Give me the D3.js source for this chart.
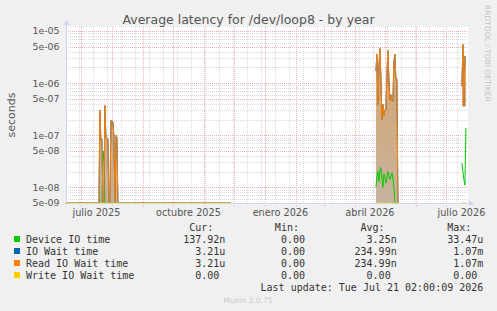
<!DOCTYPE html>
<html>
<head>
<meta charset="utf-8">
<script src="https://cdn.jsdelivr.net/npm/d3@7"></script>
<style>
  html, body { margin: 0; padding: 0; background: #f0f0f0; }
  svg { display: block; }
  text { font-family: 'DejaVu Sans', sans-serif; }
  .mono { font-family: 'DejaVu Sans Mono', monospace; }
</style>
</head>
<body>
<svg id="chart" width="497" height="311"></svg>
<script>
const rangeStart = '2025-06-16 02:00:09';
const rangeEnd = '2026-07-21 02:00:09';

const monthLabels = ['julio 2025', 'octubre 2025', 'enero 2026', 'abril 2026', 'julio 2026'];
const monthLabelMonths = ['2025-07-01', '2025-10-01', '2026-01-01', '2026-04-01', '2026-07-01'];

const yTickValues = [1e-5, 5e-6, 1e-6, 5e-7, 1e-7, 5e-8, 1e-8, 5e-9];
const yTickLabels = ['1e-05', '5e-06', '1e-06', '5e-07', '1e-07', '5e-08', '1e-08', '5e-09'];

// periods with data (fields are 0 there unless a burst below says otherwise)
const dataPeriods = [
  ['2025-06-16', '2025-11-28'],
  ['2026-04-22', '2026-05-14'],
  ['2026-07-17', '2026-07-21'],
];

// daily values (seconds), one per day from the burst start date
const burstStarts = ['2025-07-18', '2026-04-22', '2026-07-17'];

const readWaitBursts = [
  [0, 0, 3.0e-7, 8.0e-8, 8.5e-8, 0, 0, 3.7e-7, 9.0e-8, 9.0e-8, 8.5e-8, 0, 0,
   1.9e-7, 1.9e-7, 1.8e-7, 9.5e-8, 0, 1.0e-7, 9.0e-8, 0],
  [1.7e-6, 3.6e-6, 3.9e-7, 2.0e-6, 4.6e-6, 1.3e-6, 2.0e-7, 3.9e-7, 2.4e-7, 3.1e-7,
   3.1e-7, 1.5e-6, 4.3e-6, 1.2e-6, 4.8e-7, 6.0e-7, 4.5e-7, 4.5e-7, 2.6e-6, 3.6e-6,
   1.2e-6, 1.2e-6, 0],
  [8.7e-7, 5.5e-6, 3.6e-7, 3.3e-6, 3.21e-6],
];
// IO wait = read wait here (write wait is always 0), same readings
const ioWaitBursts = readWaitBursts;

const deviceIoBursts = [
  [0, 0, 0, 0, 0, 3.0e-8, 5.0e-8, 0, 0, 0, 0, 0, 0,
   0, 0, 0, 0, 0, 0, 0, 0],
  [1.0e-8, 1.6e-8, 2.0e-8, 1.3e-8, 2.2e-8, 2.4e-8, 1.4e-8, 1.0e-8, 1.8e-8, 1.6e-8,
   1.2e-8, 1.5e-8, 2.0e-8, 1.7e-8, 1.4e-8, 1.6e-8, 1.9e-8, 1.5e-8, 1.0e-8, 0,
   0, 0, 0],
  [2.9e-8, 2.0e-8, 1.4e-8, 1.1e-8, 1.379e-7],
];

const legendNames = ['Device IO time', 'IO Wait time', 'Read IO Wait time', 'Write IO Wait time'];
const legendColors = ['#00cc00', '#0066b3', '#ff8000', '#ffcc00'];
const curValues = ['137.92n', '3.21u', '3.21u', '0.00'];
const minValues = ['0.00', '0.00', '0.00', '0.00'];
const avgValues = ['3.25n', '234.99n', '234.99n', '0.00'];
const maxValues = ['33.47u', '1.07m', '1.07m', '0.00'];

// ---- chart ----
const parseDay = d3.timeParse('%Y-%m-%d');
const parseTime = d3.timeParse('%Y-%m-%d %H:%M:%S');

const svg = d3.select('#chart');
const plotLeft = 66, plotRight = 466, plotTop = 27, plotBottom = 203;
const gridRight = 468;

const x = d3.scaleTime()
  .domain([parseTime(rangeStart), parseTime(rangeEnd)])
  .range([plotLeft, plotRight]);

const yMin = 5e-9, yMax = 1.194e-5;
const y = d3.scaleLog()
  .domain([yMin, yMax])
  .range([plotBottom, plotTop]);

// log scale can't show 0, rrdtool puts it on the bottom edge
const yv = (v) => y(Math.max(v, yMin));

// build a series: zero lines over the data periods, bursts spliced in
function buildSeries(bursts) {
  const pts = [];
  dataPeriods.forEach((p, i) => {
    const startP = parseDay(p[0]);
    const endP = parseDay(p[1]);
    const b0 = parseDay(burstStarts[i]);
    const vals = bursts[i];
    if (+b0 > +startP) pts.push([startP, 0]);
    vals.forEach((v, k) => pts.push([d3.timeDay.offset(b0, k), v]));
    const bEnd = d3.timeDay.offset(b0, vals.length - 1);
    if (+endP > +bEnd) pts.push([endP, 0]);
    pts.push([d3.timeDay.offset(endP, 1), null]);
  });
  return pts;
}

function buildZeroSeries() {
  const pts = [];
  dataPeriods.forEach((p) => {
    pts.push([parseDay(p[0]), 0]);
    pts.push([parseDay(p[1]), 0]);
    pts.push([d3.timeDay.offset(parseDay(p[1]), 1), null]);
  });
  return pts;
}

const deviceSeries = buildSeries(deviceIoBursts);
const ioWaitSeries = buildSeries(ioWaitBursts);
const readSeries = buildSeries(readWaitBursts);
const writeSeries = buildZeroSeries();

// plot background
svg.append('rect')
  .attr('x', plotLeft).attr('y', plotTop)
  .attr('width', gridRight - plotLeft).attr('height', plotBottom - plotTop)
  .attr('fill', '#ffffff');

const defs = svg.append('defs');
defs.append('clipPath')
  .attr('id', 'plotclip')
  .append('rect')
  .attr('x', plotLeft).attr('y', plotTop)
  .attr('width', gridRight - plotLeft).attr('height', plotBottom - plotTop);

// gradient for the dense zig-zag fill under the wait lines
const grad = defs.append('linearGradient')
  .attr('id', 'tan')
  .attr('gradientUnits', 'userSpaceOnUse')
  .attr('x1', 0).attr('y1', 40).attr('x2', 0).attr('y2', plotBottom);
grad.append('stop').attr('offset', 0).attr('stop-color', '#d49a5c');
grad.append('stop').attr('offset', 1).attr('stop-color', '#c0ac94');

// horizontal grid
const gridY = [];
for (let e = -9; e <= -5; e++) {
  for (let k = 1; k <= 9; k++) {
    const v = k * Math.pow(10, e);
    if (v >= yMin && v <= yMax) gridY.push({ v, major: k === 1 || k === 5 });
  }
}
const minorColor = '#dadada';
const majorColor = '#eeb0b0';
const grid = svg.append('g');
grid.selectAll('.hgrid')
  .data(gridY)
  .enter()
  .append('line')
  .attr('x1', plotLeft).attr('x2', gridRight)
  .attr('y1', (d) => Math.round(y(d.v)) + 0.5)
  .attr('y2', (d) => Math.round(y(d.v)) + 0.5)
  .attr('stroke', (d) => (d.major ? majorColor : minorColor))
  .attr('stroke-dasharray', '1,1');

// vertical grid: months (major) and every other sunday (minor)
const monthTicks = d3.timeMonth.range(parseDay('2025-07-01'), parseDay('2026-07-02'));
const minorTicks = d3.timeDay.range(parseDay('2025-06-29'), parseDay('2026-07-21'), 14)
  .filter((d) => x(d) > plotLeft);

grid.selectAll('.vminor')
  .data(minorTicks)
  .enter()
  .append('line')
  .attr('x1', (d) => Math.round(x(d)) + 0.5)
  .attr('x2', (d) => Math.round(x(d)) + 0.5)
  .attr('y1', plotTop).attr('y2', plotBottom + 2)
  .attr('stroke', minorColor)
  .attr('stroke-dasharray', '1,1');

grid.selectAll('.vmajor')
  .data(monthTicks)
  .enter()
  .append('line')
  .attr('x1', (d) => Math.round(x(d)) + 0.5)
  .attr('x2', (d) => Math.round(x(d)) + 0.5)
  .attr('y1', plotTop).attr('y2', plotBottom + 3)
  .attr('stroke', majorColor)
  .attr('stroke-dasharray', '1,1');

// axes with arrows
const axisColor = '#cdd4f4';
svg.append('line')
  .attr('x1', plotLeft + 0.5).attr('x2', plotLeft + 0.5)
  .attr('y1', plotBottom + 2).attr('y2', 24)
  .attr('stroke', axisColor);
svg.append('path')
  .attr('d', `M${plotLeft - 2.5},25 L${plotLeft + 3.5},25 L${plotLeft + 0.5},20 Z`)
  .attr('fill', axisColor);
svg.append('line')
  .attr('x1', plotLeft - 2).attr('x2', 470)
  .attr('y1', plotBottom + 0.5).attr('y2', plotBottom + 0.5)
  .attr('stroke', axisColor);
svg.append('path')
  .attr('d', `M469,${plotBottom - 2.5} L469,${plotBottom + 3.5} L474,${plotBottom + 0.5} Z`)
  .attr('fill', axisColor);

const plot = svg.append('g').attr('clip-path', 'url(#plotclip)');

// fill under the wait lines (per burst, down to the burst's lowest value)
const area = d3.area()
  .x((d) => x(d[0]))
  .y0((d) => d[2])
  .y1((d) => yv(d[1]));

burstStarts.forEach((s, i) => {
  const vals = readWaitBursts[i];
  const base = yv(d3.min(vals));
  const pts = vals.map((v, k) => [d3.timeDay.offset(parseDay(s), k), v, base]);
  plot.append('path')
    .datum(pts)
    .attr('d', area)
    .attr('fill', 'url(#tan)')
    .attr('fill-opacity', 0.9);
});

// lines, drawn in munin's field order
const line = d3.line()
  .defined((d) => d[1] !== null)
  .x((d) => x(d[0]))
  .y((d) => yv(d[1]));

[deviceSeries, ioWaitSeries, readSeries, writeSeries].forEach((s, i) => {
  plot.append('path')
    .datum(s)
    .attr('d', line)
    .attr('fill', 'none')
    .attr('stroke', legendColors[i])
    .attr('stroke-width', 1);
});

// y labels
svg.selectAll('.ylab')
  .data(yTickValues)
  .enter()
  .append('text')
  .attr('x', 59.5)
  .attr('y', (d) => y(d) + 3.4)
  .attr('text-anchor', 'end')
  .attr('font-size', '9.4px')
  .attr('fill', '#555')
  .text((d, i) => yTickLabels[i]);

// x labels, centred in their month
svg.selectAll('.xlab')
  .data(monthLabelMonths)
  .enter()
  .append('text')
  .attr('x', (d) => {
    const m = parseDay(d);
    return (x(m) + x(d3.timeMonth.offset(m, 1))) / 2;
  })
  .attr('y', 216)
  .attr('text-anchor', 'middle')
  .attr('font-size', '9.7px')
  .attr('fill', '#555')
  .text((d, i) => monthLabels[i]);

// title + axis title
svg.append('text')
  .attr('x', 248.5).attr('y', 24)
  .attr('text-anchor', 'middle')
  .attr('font-size', '12.5px')
  .attr('fill', '#555')
  .text('Average latency for /dev/loop8 - by year');

svg.append('text')
  .attr('transform', 'translate(15,115) rotate(-90)')
  .attr('text-anchor', 'middle')
  .attr('font-size', '11px')
  .attr('fill', '#555')
  .text('seconds');

svg.append('text')
  .attr('transform', 'translate(484.5,5) rotate(90)')
  .attr('font-size', '7.5px')
  .attr('fill', '#c4c4c4')
  .text('RRDTOOL / TOBI OETIKER');

// legend
const charW = 6.02;
const cols = [
  { head: 'Cur:', vals: curValues, end: 225.3 },
  { head: 'Min:', vals: minValues, end: 311 },
  { head: 'Avg:', vals: avgValues, end: 396.7 },
  { head: 'Max:', vals: maxValues, end: 483.3 },
];
const legend = svg.append('g')
  .attr('font-size', '10px')
  .attr('fill', '#333');

cols.forEach((c) => {
  legend.append('text')
    .attr('class', 'mono')
    .attr('x', c.end - 2 * charW)
    .attr('y', 231.3)
    .attr('text-anchor', 'end')
    .text(c.head);
});

const rowY = [243, 255, 267, 279];
legendNames.forEach((name, i) => {
  legend.append('rect')
    .attr('x', 14).attr('y', rowY[i] - 7)
    .attr('width', 6).attr('height', 6)
    .attr('fill', legendColors[i]);
  legend.append('text')
    .attr('class', 'mono')
    .attr('x', 26).attr('y', rowY[i])
    .text(name);
  cols.forEach((c) => {
    const v = c.vals[i];
    const hasUnit = /[a-zA-Z]$/.test(v);
    legend.append('text')
      .attr('class', 'mono')
      .attr('x', hasUnit ? c.end : c.end - charW)
      .attr('y', rowY[i])
      .attr('text-anchor', 'end')
      .text(v);
  });
});

legend.append('text')
  .attr('class', 'mono')
  .attr('x', 483.3).attr('y', 291)
  .attr('text-anchor', 'end')
  .text('Last update: Tue Jul 21 02:00:09 2026');

svg.append('text')
  .attr('x', 248).attr('y', 303)
  .attr('text-anchor', 'middle')
  .attr('font-size', '7.5px')
  .attr('fill', '#c8c8c8')
  .text('Munin 2.0.75');
</script>
</body>
</html>
